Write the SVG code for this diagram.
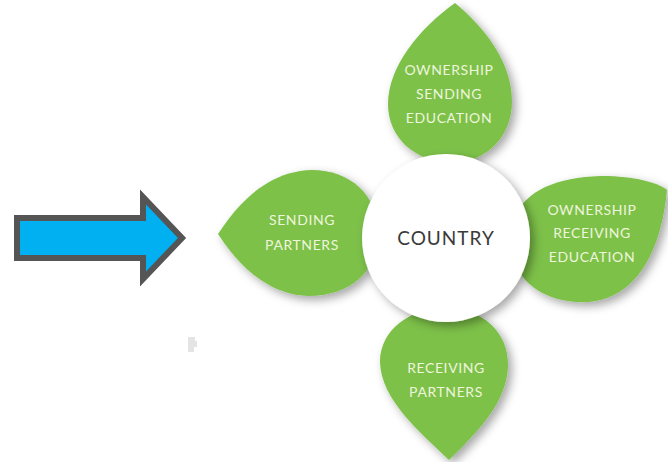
<svg xmlns="http://www.w3.org/2000/svg" width="668" height="462" viewBox="0 0 668 462">
<defs>
<filter id="sh" x="-30%" y="-30%" width="160%" height="160%">
<feDropShadow dx="4" dy="4" stdDeviation="5" flood-color="#000" flood-opacity="0.35"/>
</filter>
<style>
.leaf{fill:#7dc14a;filter:url(#sh)}
.lt{font-family:Lato,"Open Sans","Liberation Sans",sans-serif;font-size:14px;letter-spacing:0.6px;fill:#eef5dc;text-anchor:middle}
.ct{font-family:Lato,"Open Sans","Liberation Sans",sans-serif;font-size:19px;letter-spacing:1px;fill:#3a3a3a;text-anchor:middle}
</style>
</defs>
<rect width="668" height="462" fill="#fff"/>
<g id="arrow">
<path d="M17,218 H143 V197 L182,238 L143,279 V258 H17 Z" fill="#00b0f0" stroke="#555" stroke-width="6" stroke-linejoin="miter"/>
</g>
<path d="M188,337 h7 v4 h2 v6 h-3 v5 h-6 Z" fill="#e4e4e4"/>
<g id="leaf-top">
<path class="leaf" d="M455,3 C485,28 512,62 512,102 C512,135 488,162 452,163 C415,162 388,138 388,104 C388,66 420,28 455,3 Z"/>
<text class="lt" x="449" y="75">OWNERSHIP</text>
<text class="lt" x="449" y="99">SENDING</text>
<text class="lt" x="449" y="123">EDUCATION</text>
</g>
<g id="leaf-left">
<path class="leaf" d="M218,234 C240,200 270,171 312,170 C350,170 378,195 378,233 C378,272 350,296 308,296 C270,295 240,268 218,234 Z"/>
<text class="lt" x="302" y="225">SENDING</text>
<text class="lt" x="302" y="250">PARTNERS</text>
</g>
<g id="leaf-right">
<path class="leaf" d="M515,215 C530,186 565,176 608,176 C640,177 660,184 667,190 C662,245 640,298 588,302 C550,304 520,285 515,260 Z"/>
<text class="lt" x="592" y="215">OWNERSHIP</text>
<text class="lt" x="592" y="238">RECEIVING</text>
<text class="lt" x="592" y="262">EDUCATION</text>
</g>
<g id="leaf-bottom">
<path class="leaf" d="M449,460 C420,432 381,400 380,362 C380,330 410,308 445,308 C482,308 509,332 508,366 C507,402 478,432 449,460 Z"/>
<text class="lt" x="446" y="373">RECEIVING</text>
<text class="lt" x="446" y="397">PARTNERS</text>
</g>
<g id="country">
<circle cx="446" cy="238" r="84" fill="#fff" filter="url(#sh)"/>
<text class="ct" x="446" y="245">COUNTRY</text>
</g>
</svg>
